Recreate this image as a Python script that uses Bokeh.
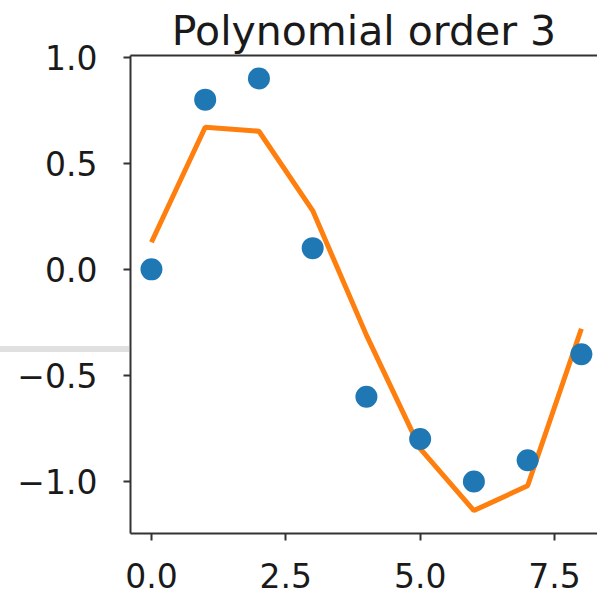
from bokeh.plotting import figure
from bokeh.models import Range1d, LinearAxis, FixedTicker, Div
from bokeh.layouts import column
from bokeh.embed import file_html
from bokeh.resources import INLINE

x_points = [0, 1, 2, 3, 4, 5, 6, 7, 8]
y_points = [0.0, 0.8, 0.9, 0.1, -0.6, -0.8, -1.0, -0.9, -0.4]
y_fit = [0.128, 0.67, 0.651, 0.277, -0.31, -0.845, -1.137, -1.02, -0.28]
x_ticks = [0.0, 2.5, 5.0, 7.5]
y_ticks = [-1.0, -0.5, 0.0, 0.5, 1.0]
title_text = "Polynomial order 3"

FONT = "DejaVu Sans"

p = figure(width=597, height=602, output_backend="svg", toolbar_location=None,
           x_range=Range1d(-0.39, 8.30), y_range=Range1d(-1.245, 1.008),
           min_border_left=130, min_border_right=0, min_border_top=55, min_border_bottom=69,
           title=title_text, margin=0)
p.outline_line_color = None
p.background_fill_color = "white"
p.border_fill_color = "white"
p.xgrid.visible = False
p.ygrid.visible = False

p.title.text_font = FONT
p.title.text_font_size = "41px"
p.title.text_font_style = "normal"
p.title.text_color = "#1a1a1a"
p.title.align = "center"
p.title.standoff = 2
p.title.offset = 0

for ax in (p.xaxis[0], p.yaxis[0]):
    ax.axis_line_color = "#333333"
    ax.axis_line_width = 2
    ax.major_tick_line_color = "#333333"
    ax.major_tick_line_width = 2
    ax.major_tick_out = 7
    ax.major_tick_in = 0
    ax.minor_tick_line_color = None
    ax.major_label_text_font = FONT
    ax.major_label_text_font_size = "33px"
    ax.major_label_text_color = "#1a1a1a"

p.xaxis[0].ticker = FixedTicker(ticks=x_ticks)
p.yaxis[0].ticker = FixedTicker(ticks=y_ticks)
p.xaxis[0].major_label_standoff = 22
p.yaxis[0].major_label_standoff = 26
p.xaxis[0].major_label_overrides = {v: f"{v:.1f}" for v in x_ticks}
p.yaxis[0].major_label_overrides = {v: (f"{v:.1f}".replace("-", "\u2212")) for v in y_ticks}

top_axis = LinearAxis(axis_line_color="#333333", axis_line_width=2,
                      major_tick_line_color=None, minor_tick_line_color=None,
                      major_label_text_font_size="0px", major_label_standoff=0,
                      major_tick_out=0, major_tick_in=0)
top_axis.ticker = FixedTicker(ticks=[])
p.add_layout(top_axis, "above")

p.line(x_points, y_fit, line_color="#ff7f0e", line_width=5)
p.scatter(x_points, y_points, size=22, fill_color="#1f77b4", line_color="#1f77b4", line_width=0)

bar = Div(text="", width=129, height=6, margin=0,
          styles={"position": "absolute", "left": "0px", "top": "346px",
                  "width": "129px", "height": "6px", "background-color": "#e0e0e0"})

layout = column(p, bar, spacing=0, margin=0)

open("out.html", "w").write(file_html(layout, INLINE))
